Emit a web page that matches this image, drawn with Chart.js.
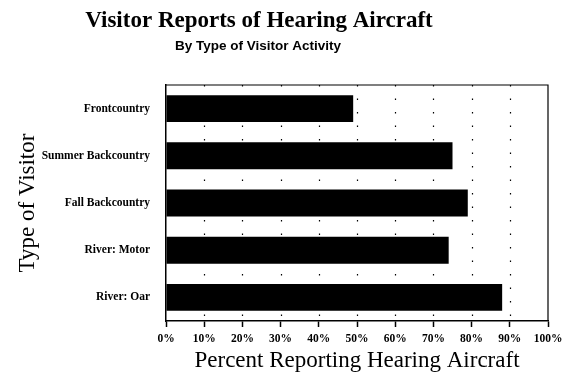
<!DOCTYPE html>
<html><head><meta charset="utf-8">
<script src="https://cdn.jsdelivr.net/npm/chart.js@4/dist/chart.umd.min.js"></script>
<style>html,body{margin:0;padding:0;background:#fff;}#wrap{width:576px;height:392px;}</style>
</head><body><div id="wrap"><canvas id="c" width="576" height="392"></canvas></div>
<script>
const categories = ["Frontcountry", "Summer Backcountry", "Fall Backcountry", "River: Motor", "River: Oar"];
const percentReporting = [49, 75, 79, 74, 88];
const xTickValues = [0,10,20,30,40,50,60,70,80,90,100];
const titleText = "Visitor Reports of Hearing Aircraft";
const subtitleText = "By Type of Visitor Activity";

const titlePlugin = {
  id: 'customTitle',
  afterDraw(chart) {
    const ctx = chart.ctx;
    ctx.save();
    ctx.fillStyle = '#000';
    ctx.textAlign = 'center';
    ctx.textBaseline = 'alphabetic';
    ctx.font = 'bold 23px "Liberation Serif", "Times New Roman", serif';
    ctx.fillText(titleText, 259, 27);
    ctx.font = 'bold 13.5px "Liberation Sans", Arial, sans-serif';
    ctx.fillText(subtitleText, 258, 50);
    ctx.restore();
  }
};
const boxPlugin = {
  id: 'plotBox',
  beforeDatasetsDraw(chart) {
    const a = chart.chartArea, ctx = chart.ctx, xs = chart.scales.x;
    ctx.save();
    ctx.strokeStyle = '#000';
    ctx.lineWidth = 1.2;
    ctx.setLineDash([1.5, 12]);
    xTickValues.forEach(v => {
      if (v === 0 || v === 100) return;
      const px = Math.round(xs.getPixelForValue(v)) + 0.5;
      ctx.beginPath(); ctx.moveTo(px, a.top); ctx.lineTo(px, a.bottom); ctx.stroke();
    });
    ctx.restore();
  },
  afterDatasetsDraw(chart) {
    const a = chart.chartArea, ctx = chart.ctx;
    ctx.save();
    ctx.strokeStyle = '#000';
    ctx.lineWidth = 1.2;
    ctx.beginPath();
    ctx.moveTo(a.left, a.top); ctx.lineTo(a.right, a.top); ctx.lineTo(a.right, a.bottom);
    ctx.stroke();
    ctx.restore();
  }
};

new Chart(document.getElementById('c'), {
  type: 'bar',
  data: {
    labels: categories,
    datasets: [{
      data: percentReporting,
      backgroundColor: '#000',
      borderWidth: 0,
      categoryPercentage: 1,
      barPercentage: 0.57
    }]
  },
  options: {
    indexAxis: 'y',
    responsive: false,
    animation: false,
    devicePixelRatio: 1,
    layout: { padding: { top: 85, right: 28, left: 0, bottom: 0 } },
    plugins: { legend: { display: false }, title: { display: false }, tooltip: { enabled: false } },
    scales: {
      x: {
        min: 0, max: 100,
        afterBuildTicks(scale) { scale.ticks = xTickValues.map(v => ({ value: v })); },
        afterFit(scale) { scale.height = 71; },
        ticks: {
          callback: v => v + '%',
          color: '#000',
          font: { family: '"Liberation Serif", "Times New Roman", serif', size: 11.5, weight: 'bold' },
          padding: 5,
          maxRotation: 0
        },
        grid: {
          drawOnChartArea: false,
          tickLength: 6,
          tickWidth: 1.5,
          tickColor: '#000'
        },
        border: { display: true, color: '#000', width: 1.5 },
        title: {
          display: true,
          text: 'Percent Reporting Hearing Aircraft',
          color: '#000',
          font: { family: '"Liberation Serif", "Times New Roman", serif', size: 23, weight: 'normal' },
          padding: { top: 0, bottom: 17 }
        }
      },
      y: {
        afterFit(scale) { scale.width = 166; },
        ticks: {
          color: '#000',
          font: { family: '"Liberation Serif", "Times New Roman", serif', size: 11.5, weight: 'bold' },
          padding: 8
        },
        grid: { display: false },
        border: { display: true, color: '#000', width: 1.5 },
        title: {
          display: true,
          text: 'Type of Visitor',
          color: '#000',
          font: { family: '"Liberation Serif", "Times New Roman", serif', size: 23, weight: 'normal' },
          padding: { top: 14, bottom: 0 }
        }
      }
    }
  },
  plugins: [titlePlugin, boxPlugin]
});
</script>
</body></html>
